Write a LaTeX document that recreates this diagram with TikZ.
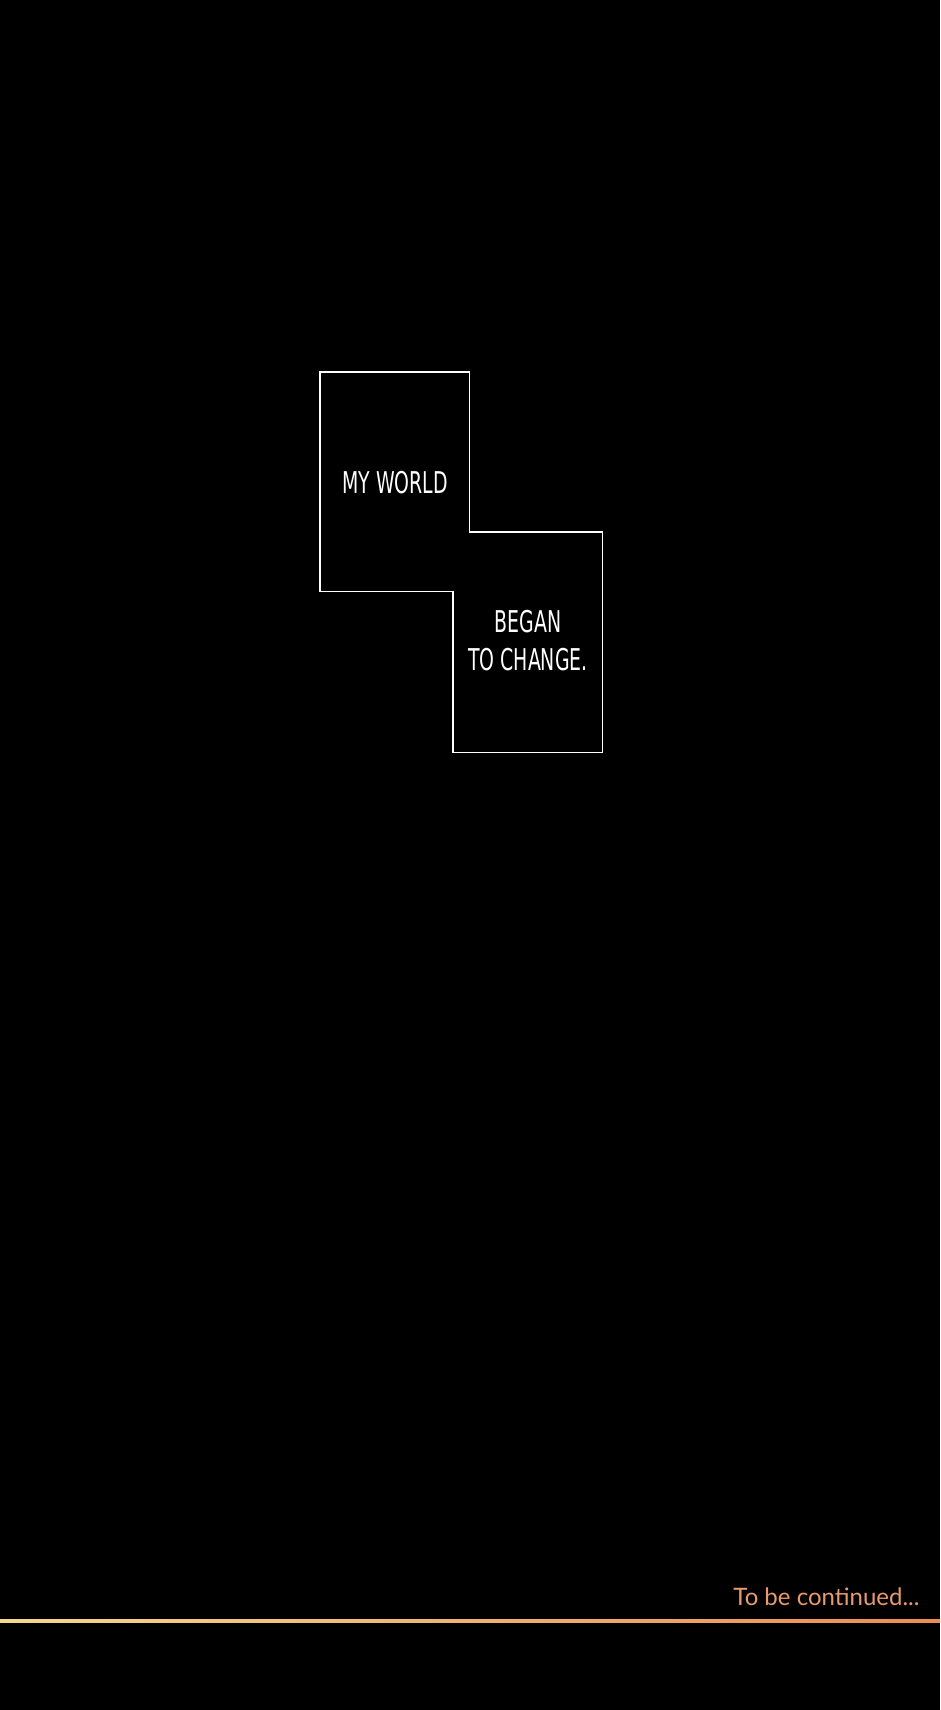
\documentclass[tikz,border=0pt]{standalone}
\usepackage{fontspec}
\setmainfont{DejaVu Sans Condensed}
\newfontfamily\comicfont[FakeStretch=0.7]{DejaVu Sans Condensed}
\newfontfamily\endfont{Lato}
\usetikzlibrary{positioning}
\definecolor{endorange}{RGB}{232,155,110}
\definecolor{lineyellow}{RGB}{245,215,140}
\definecolor{lineorange}{RGB}{235,140,85}
\tikzset{
  panel/.style={minimum width=149pt, anchor=north west, inner sep=0pt},
  speech/.style={text=white, font=\comicfont\fontsize{30}{38}\selectfont, align=center}
}
\begin{document}
\begin{tikzpicture}[x=1pt,y=-1pt]

% Draw the background
\fill[black] (0,0) rectangle (940,1710);
\useasboundingbox (0,0) rectangle (940,1710);

% Draw the panels
\node[panel, minimum height=219pt] (world) at (320,372) {};
\node[panel, minimum height=220pt] (change) at (453,532) {};
\draw[white, line width=1.5pt] (world.north west) -- (world.north east) -- (world.north east |- change.north)
  -- (change.north east) -- (change.south east) -- (change.south west) -- (change.west |- world.south)
  -- (world.south west) -- cycle;

%% Add the words
\node[speech] (myworld) at (395,483) {MY WORLD};
\node[speech] (began) at (528,641) {BEGAN\\TO CHANGE.};

%% Add the ending
\shade[left color=lineyellow, right color=lineorange] (0,1619.5) rectangle (940,1622.5);
\node[text=endorange, font=\endfont\fontsize{24}{28}\selectfont, anchor=base east] (tbc) at (923,1605) {To be continued...};

\end{tikzpicture}
\end{document}
